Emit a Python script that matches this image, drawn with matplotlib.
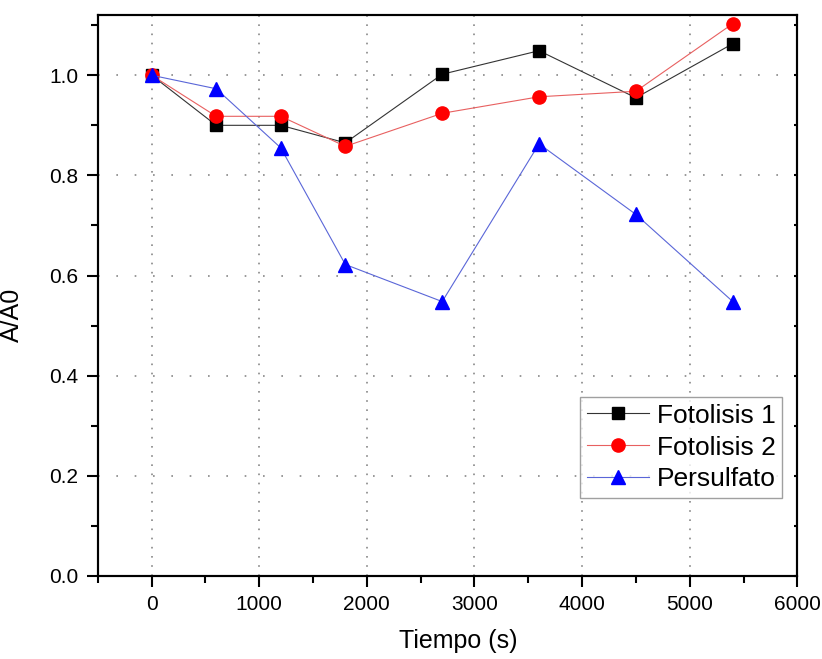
import matplotlib
matplotlib.use("Agg")
import matplotlib.pyplot as plt
from matplotlib.ticker import MultipleLocator

plt.rcParams['font.family'] = ['Liberation Sans', 'DejaVu Sans']

# time points (s)
tiempo = [0, 600, 1200, 1800, 2700, 3600, 4500, 5400]

# A/A0 for each run
fotolisis_1 = [1.0, 0.90, 0.90, 0.865, 1.002, 1.049, 0.955, 1.063]
fotolisis_2 = [1.0, 0.918, 0.918, 0.858, 0.924, 0.957, 0.968, 1.103]
persulfato = [1.0, 0.973, 0.855, 0.622, 0.548, 0.863, 0.722, 0.548]

fig = plt.figure(figsize=(8.22, 6.59), dpi=100)
ax = fig.add_axes([0.119, 0.126, 0.851, 0.851])

ax.plot(tiempo, fotolisis_1, '-s', color='#333333', mfc='black', mec='black',
        lw=0.8, ms=8.5, label='Fotolisis 1')
ax.plot(tiempo, fotolisis_2, '-o', color='#e86060', mfc='red', mec='red',
        lw=0.8, ms=9.5, label='Fotolisis 2')
ax.plot(tiempo, persulfato, '-^', color='#5a66d8', mfc='blue', mec='blue',
        lw=0.8, ms=10, label='Persulfato')

ax.set_xlim(-500, 6000)
ax.set_ylim(0, 1.12)
ax.xaxis.set_major_locator(MultipleLocator(1000))
ax.xaxis.set_minor_locator(MultipleLocator(500))
ax.yaxis.set_major_locator(MultipleLocator(0.2))
ax.yaxis.set_minor_locator(MultipleLocator(0.1))
ax.yaxis.set_major_formatter(plt.FormatStrFormatter('%.1f'))

ax.tick_params(which='major', direction='out', length=8, width=1.5,
               labelsize=15, pad=6)
ax.tick_params(which='minor', direction='out', length=5, width=1.5)

# tiny inward ticks on the right spine
right = ax.twinx()
right.set_ylim(ax.get_ylim())
right.yaxis.set_major_locator(MultipleLocator(0.2))
right.yaxis.set_minor_locator(MultipleLocator(0.1))
right.tick_params(which='both', direction='in', length=2, width=1.5,
                  labelright=False)

for a in (ax, right):
    for sp in a.spines.values():
        sp.set_linewidth(1.5)

# Origin-style dotted grid: horizontal dots sparser than vertical ones
ax.xaxis.grid(True, which='major', linestyle=(0, (1, 4.5)), color='#888888', lw=1.2)
ax.yaxis.grid(True, which='major', linestyle=(0, (1, 10)), color='#888888', lw=1.2)

ax.set_xlabel('Tiempo (s)', fontsize=18)
ax.set_ylabel('A/A0', fontsize=18)
ax.xaxis.set_label_coords(0.515, -0.095)
ax.yaxis.set_label_coords(-0.105, 0.465)

leg = ax.legend(loc='upper left', bbox_to_anchor=(580 / 822, 1 - 397 / 659),
                bbox_transform=fig.transFigure,
                fontsize=19, frameon=True, fancybox=False,
                edgecolor='#888888', handlelength=2.35, borderpad=0.25,
                labelspacing=0.3, handletextpad=0.3, borderaxespad=0)
leg.get_frame().set_linewidth(1.0)

fig.savefig('out.png', dpi=100)
